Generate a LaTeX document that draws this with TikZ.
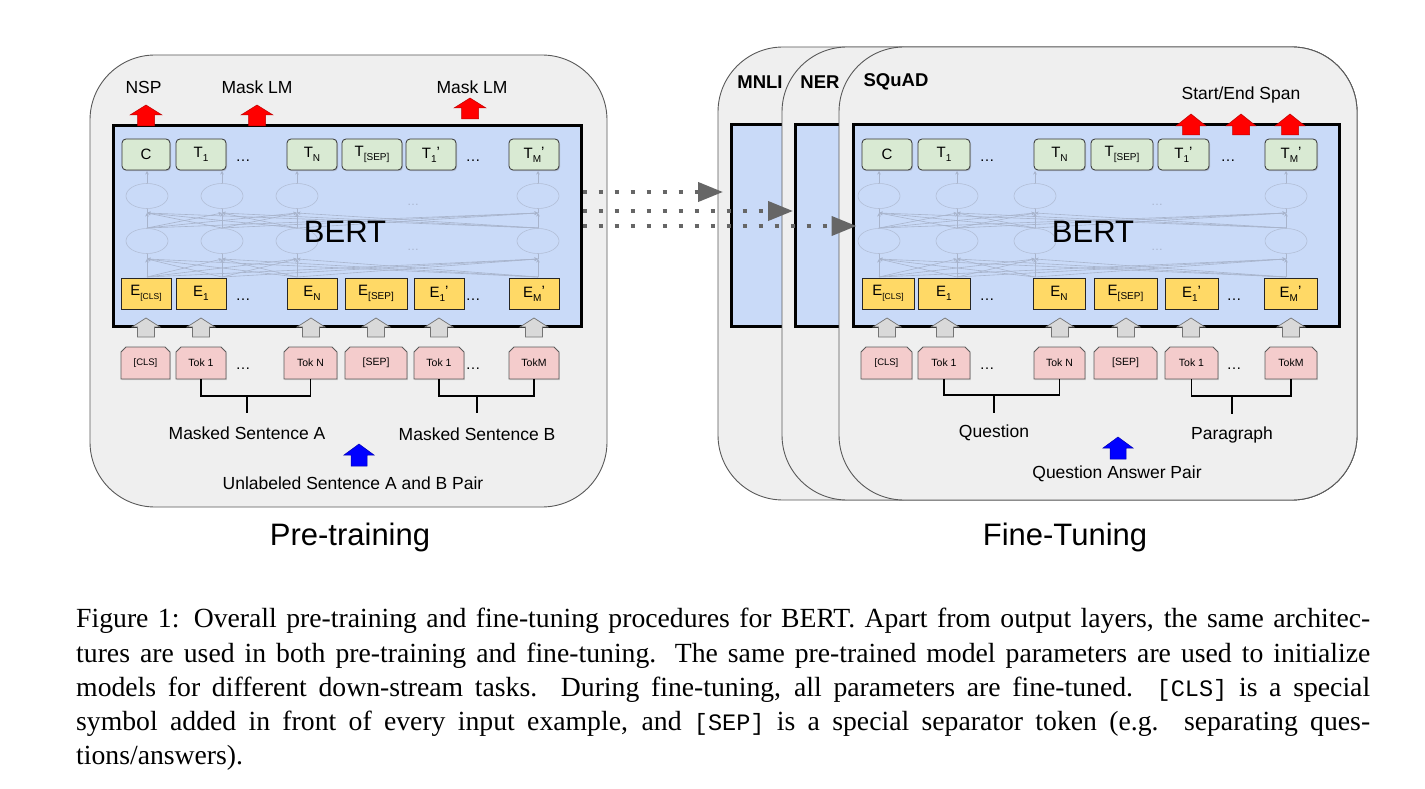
\documentclass[tikz,border=0pt]{standalone}
\usepackage{fontspec}
\setmainfont{Liberation Sans}
\newfontfamily\capfont{Liberation Serif}
\newfontfamily\capmono[Scale=0.85]{Liberation Mono}
\usetikzlibrary{arrows.meta,shapes.geometric,shadows}
\definecolor{panelbg}{HTML}{EFEFEF}
\definecolor{panelln}{HTML}{595959}
\definecolor{bertbg}{HTML}{C9DAF8}
\definecolor{tgreen}{HTML}{D9EAD3}
\definecolor{eyellow}{HTML}{FFD966}
\definecolor{tokred}{HTML}{F4CCCC}
\definecolor{arrgray}{HTML}{D9D9D9}
\definecolor{netc}{RGB}{168,180,204}
\definecolor{ellc}{RGB}{178,190,214}
\definecolor{dotc}{HTML}{666666}
\tikzset{
 panel/.style={fill=panelbg, draw=panelln, line width=0.9pt, rounded corners=65pt},
 bertbox/.style={fill=bertbg, draw=black, line width=3pt, inner sep=0pt},
 tbox/.style={draw=black!80, fill=tgreen, rounded corners=4pt, line width=0.8pt, inner sep=0pt,
   drop shadow={shadow xshift=1pt, shadow yshift=-1.2pt, opacity=0.35},
   font=\fontsize{15}{15}\selectfont},
 ebox/.style={draw=black!85, fill=eyellow, line width=0.8pt, inner sep=0pt, font=\fontsize{15}{15}\selectfont},
 tokshape/.style={draw=black!65, fill=tokred, line width=0.8pt,
   drop shadow={shadow xshift=0.8pt, shadow yshift=-1pt, opacity=0.25}},
 toktext/.style={inner sep=0pt, font=\fontsize{10.5}{11}\selectfont},
 netline/.style={draw=netc, line width=0.6pt, -{Stealth[length=3.5pt,width=3.5pt]}},
 netplain/.style={draw=netc, line width=0.6pt},
 netell/.style={ellipse, draw=ellc, line width=0.6pt, minimum width=42pt, minimum height=25pt, inner sep=0pt},
 netdots/.style={text=netc, inner sep=0pt, font=\fontsize{12}{12}\selectfont},
 dotsl/.style={inner sep=0pt, font=\fontsize{15}{15}\selectfont},
 lbl/.style={inner sep=0pt, font=\fontsize{17.5}{20}\selectfont},
 tasklbl/.style={inner sep=0pt, font=\bfseries\fontsize{18.5}{20}\selectfont},
 bertlbl/.style={inner sep=0pt, font=\fontsize{31}{34}\selectfont},
 titlelbl/.style={inner sep=0pt, font=\fontsize{31}{34}\selectfont},
 redarr/.style={fill=red, draw=red!75!black, line width=0.5pt},
 bluearr/.style={fill=blue, draw=blue!70!black, line width=0.5pt},
 grayarr/.style={fill=arrgray, draw=black!55, line width=0.7pt},
 bracket/.style={draw=black, line width=1.2pt},
 dotarr/.style={draw=dotc, line width=4pt, dash pattern=on 4pt off 12pt, -{Triangle[length=25pt,width=19pt]}}
}
\newcommand{\bx}[7]{\node[#1, minimum width={#4-#3}, minimum height={#6-#5}] (#2) at ({(#3+#4)/2},{(#5+#6)/2}) {#7};}
\newcommand{\tok}[6]{%
 \filldraw[tokshape] (#2,#5) -- (#2,{#4+5}) -- ({#2+5},#4) -- ({#3-5},#4) -- (#3,{#4+5}) -- (#3,#5) -- cycle;
 \node[toktext, minimum width={#3-#2}, minimum height={#5-#4}] (#1) at ({(#2+#3)/2},{(#4+#5)/2}) {#6};}
\newcommand{\blockup}[7]{%
 \filldraw[#1] ({#2-#6},#3) -- ({#2-#6},#4) -- ({#2-#7},#4) -- (#2,#5) -- ({#2+#7},#4) -- ({#2+#6},#4) -- ({#2+#6},#3) -- cycle;}
\newcommand{\sbs}[1]{\raisebox{-4pt}{\fontsize{10}{10}\selectfont #1}}
\newcommand{\sbcls}{\raisebox{-4pt}{\fontsize{8.5}{8.5}\selectfont [CLS]}}
\newcommand{\prm}{\raisebox{1pt}{’}}
\newcommand{\network}[6]{%
 \foreach \a in {#2,#3,#4,#5}{%
   \foreach \b in {#2,#3,#4,#5}{%
     \draw[netline] (\a,277) -- (\b,259);
     \draw[netline] (\a,228) -- (\b,213);
   }
   \draw[netplain] (\a,259) -- (\a,253.5);
   \draw[netplain] (\a,213) -- (\a,208.5);
   \draw[netline] (\a,183.5) -- (\a,171);
 }
 \foreach \a [count=\i] in {#2,#3,#4,#5}{%
   \node[netell] (#1low\i) at (\a,241) {};
   \node[netell] (#1up\i) at (\a,196) {};
 }
 \node[netdots] (#1nd1) at (#6,205) {…};
 \node[netdots] (#1nd2) at (#6,250) {…};
}
\begin{document}
\begin{tikzpicture}[x=1pt,y=-1pt]
\useasboundingbox (0,0) rectangle (1425,789);
\fill[white] (0,0) rectangle (1425,789);

% ================= LEFT: pre-training =================
\draw[panel] (90,55) rectangle (607,507);
\node[bertbox, minimum width=468pt, minimum height=200pt] (lbert) at (347,226) {};
\network{L}{147}{222}{297}{538}{413}
\node[bertlbl] (lbertlbl) at (345,232) {BERT};

\node[lbl] (nsp) at (143.5,87) {NSP};
\node[lbl] (mlm1) at (257,87) {Mask LM};
\node[lbl] (mlm2) at (472,87) {Mask LM};
\blockup{redarr}{146}{126}{115}{105}{8.5}{16}
\blockup{redarr}{257}{126}{115}{105}{8.5}{16}
\blockup{redarr}{470}{119}{108}{98}{8.5}{16}

\bx{tbox}{lt0}{122}{170}{139}{170}{C}
\bx{tbox}{lt1}{176}{226}{139}{170}{T\sbs{1}}
\node[dotsl] (ltd1) at (243,161) {…};
\bx{tbox}{lt2}{287}{337}{139}{170}{T\sbs{N}}
\bx{tbox}{lt3}{342}{402}{139}{170}{T\sbs{[SEP]}}
\bx{tbox}{lt4}{406}{456}{139}{170}{T\sbs{1}\prm}
\node[dotsl] (ltd2) at (473,161) {…};
\bx{tbox}{lt5}{509}{559}{139}{170}{T\sbs{M}\prm}

\bx{ebox}{le0}{121}{171}{278}{309}{E\sbcls}
\bx{ebox}{le1}{176}{226}{278}{309}{E\sbs{1}}
\node[dotsl] (led1) at (243,300) {…};
\bx{ebox}{le2}{287}{337}{278}{309}{E\sbs{N}}
\bx{ebox}{le3}{345}{407}{278}{309}{E\sbs{[SEP]}}
\bx{ebox}{le4}{414}{464}{278}{309}{E\sbs{1}\prm}
\node[dotsl] (led2) at (473,300) {…};
\bx{ebox}{le5}{509}{559}{278}{309}{E\sbs{M}\prm}

\foreach \c in {146,201,311,376,439,534}{\blockup{grayarr}{\c}{337}{327}{318}{8.5}{14}}

\tok{lk0}{121}{170}{347}{379}{\fontsize{9.5}{10}\selectfont [CLS]}
\tok{lk1}{176}{226}{347}{379}{Tok 1}
\node[dotsl] (lkd1) at (243,369) {…};
\tok{lk2}{284}{337}{347}{379}{Tok N}
\tok{lk3}{345}{407}{347}{379}{[SEP]}
\tok{lk4}{414}{464}{347}{379}{Tok 1}
\node[dotsl] (lkd2) at (473,369) {…};
\tok{lk5}{509}{559}{347}{379}{TokM}

\coordinate (lbrA) at (247,396);
\coordinate (lstA) at (247,413);
\draw[bracket] (lk1.south) |- (lbrA) -| (lk2.south);
\draw[bracket] (lbrA) -- (lstA);
\coordinate (lbrB) at (477,396);
\coordinate (lstB) at (477,413);
\draw[bracket] (lk4.south) |- (lbrB) -| (lk5.south);
\draw[bracket] (lbrB) -- (lstB);

\node[lbl] (lsA) at (247,433) {Masked Sentence A};
\node[lbl] (lsB) at (477,434) {Masked Sentence B};
\blockup{bluearr}{359}{466}{455}{444}{8}{15}
\node[lbl] (lpair) at (353,483) {Unlabeled Sentence A and B Pair};
\node[titlelbl] (pretrain) at (350,537) {Pre-training};

% ================= RIGHT: fine-tuning =================
\draw[panel] (718,47) rectangle (1357,500);
\node[bertbox, minimum width=608pt, minimum height=201pt] (mnlibox) at (1035,225.5) {};
\node[tasklbl] (mnlilbl) at (760,82) {MNLI};
\draw[panel] (782,47) rectangle (1357,500);
\node[bertbox, minimum width=544pt, minimum height=201pt] (nerbox) at (1067,225.5) {};
\node[tasklbl] (nerlbl) at (820,82) {NER};
\draw[panel] (839,47) rectangle (1357,500);
\node[bertbox, minimum width=486pt, minimum height=201pt] (sqbox) at (1096,225.5) {};
\node[tasklbl] (sqlbl) at (896,82) {SQuAD};
\network{R}{879}{957}{1035}{1286}{1157}
\node[bertlbl] (rbertlbl) at (1093,232) {BERT};

\node[lbl] (span) at (1241,95) {Start/End Span};
\blockup{redarr}{1191}{135}{126}{114}{8.5}{15}
\blockup{redarr}{1241}{135}{126}{114}{8.5}{15}
\blockup{redarr}{1290}{135}{126}{114}{8.5}{15}

\bx{tbox}{rt0}{862}{912}{139}{170}{C}
\bx{tbox}{rt1}{918}{970}{139}{170}{T\sbs{1}}
\node[dotsl] (rtd1) at (987,161) {…};
\bx{tbox}{rt2}{1034}{1085}{139}{170}{T\sbs{N}}
\bx{tbox}{rt3}{1091}{1153}{139}{170}{T\sbs{[SEP]}}
\bx{tbox}{rt4}{1158}{1209}{139}{170}{T\sbs{1}\prm}
\node[dotsl] (rtd2) at (1228,161) {…};
\bx{tbox}{rt5}{1265}{1317}{139}{170}{T\sbs{M}\prm}

\bx{ebox}{re0}{862}{914}{278}{309}{E\sbcls}
\bx{ebox}{re1}{918}{970}{278}{309}{E\sbs{1}}
\node[dotsl] (red1) at (987,300) {…};
\bx{ebox}{re2}{1033}{1085}{278}{309}{E\sbs{N}}
\bx{ebox}{re3}{1094}{1157}{278}{309}{E\sbs{[SEP]}}
\bx{ebox}{re4}{1165}{1218}{278}{309}{E\sbs{1}\prm}
\node[dotsl] (red2) at (1234,300) {…};
\bx{ebox}{re5}{1264}{1317}{278}{309}{E\sbs{M}\prm}

\foreach \c in {887,945,1060,1126,1191,1291}{\blockup{grayarr}{\c}{337}{327}{318}{8.5}{14}}

\tok{rk0}{861}{912}{347}{379}{\fontsize{9.5}{10}\selectfont [CLS]}
\tok{rk1}{918}{970}{347}{379}{Tok 1}
\node[dotsl] (rkd1) at (987,369) {…};
\tok{rk2}{1034}{1085}{347}{379}{Tok N}
\tok{rk3}{1094}{1157}{347}{379}{[SEP]}
\tok{rk4}{1165}{1218}{347}{379}{Tok 1}
\node[dotsl] (rkd2) at (1234,369) {…};
\tok{rk5}{1265}{1317}{347}{379}{TokM}

\coordinate (rbrA) at (994,395);
\coordinate (rstA) at (994,413);
\draw[bracket] (rk1.south) |- (rbrA) -| (rk2.south);
\draw[bracket] (rbrA) -- (rstA);
\coordinate (rbrB) at (1232,396);
\coordinate (rstB) at (1232,414);
\draw[bracket] (rk4.south) |- (rbrB) -| (rk5.south);
\draw[bracket] (rbrB) -- (rstB);

\node[lbl] (rq) at (994,433) {Question};
\node[lbl] (rp) at (1232,435) {Paragraph};
\blockup{bluearr}{1118}{459}{448}{437}{8}{15}
\node[lbl] (rqa) at (1117,474) {Question Answer Pair};
\node[titlelbl] (finetune) at (1065,537) {Fine-Tuning};

% ================= dotted transfer arrows =================
\coordinate (d1) at (583,192);
\coordinate (d2) at (583,211);
\coordinate (d3) at (581,226);
\draw[dotarr, shorten >=6.5pt] (lbert.east |- d1) -- (mnlibox.west |- d1);
\draw[dotarr, shorten >=0.5pt] (lbert.east |- d2) -- (nerbox.west |- d2);
\draw[dotarr, shorten >=-5pt] (lbert.east |- d3) -- (sqbox.west |- d3);

% ================= caption =================
\node[anchor=north west, inner sep=0pt, align=left, font=\capfont\fontsize{27.7}{34.3}\selectfont] (caption) at (76,608) {%
\makebox[1294pt][s]{Figure 1: Overall pre-training and fine-tuning procedures for BERT. Apart from output layers, the same architec-}\\
\makebox[1294pt][s]{tures are used in both pre-training and fine-tuning. The same pre-trained model parameters are used to initialize}\\
\makebox[1294pt][s]{models for different down-stream tasks. During fine-tuning, all parameters are fine-tuned. {\capmono[CLS]} is a special}\\
\makebox[1294pt][s]{symbol added in front of every input example, and {\capmono[SEP]} is a special separator token (e.g. separating ques-}\\
tions/answers).};
\end{tikzpicture}
\end{document}
